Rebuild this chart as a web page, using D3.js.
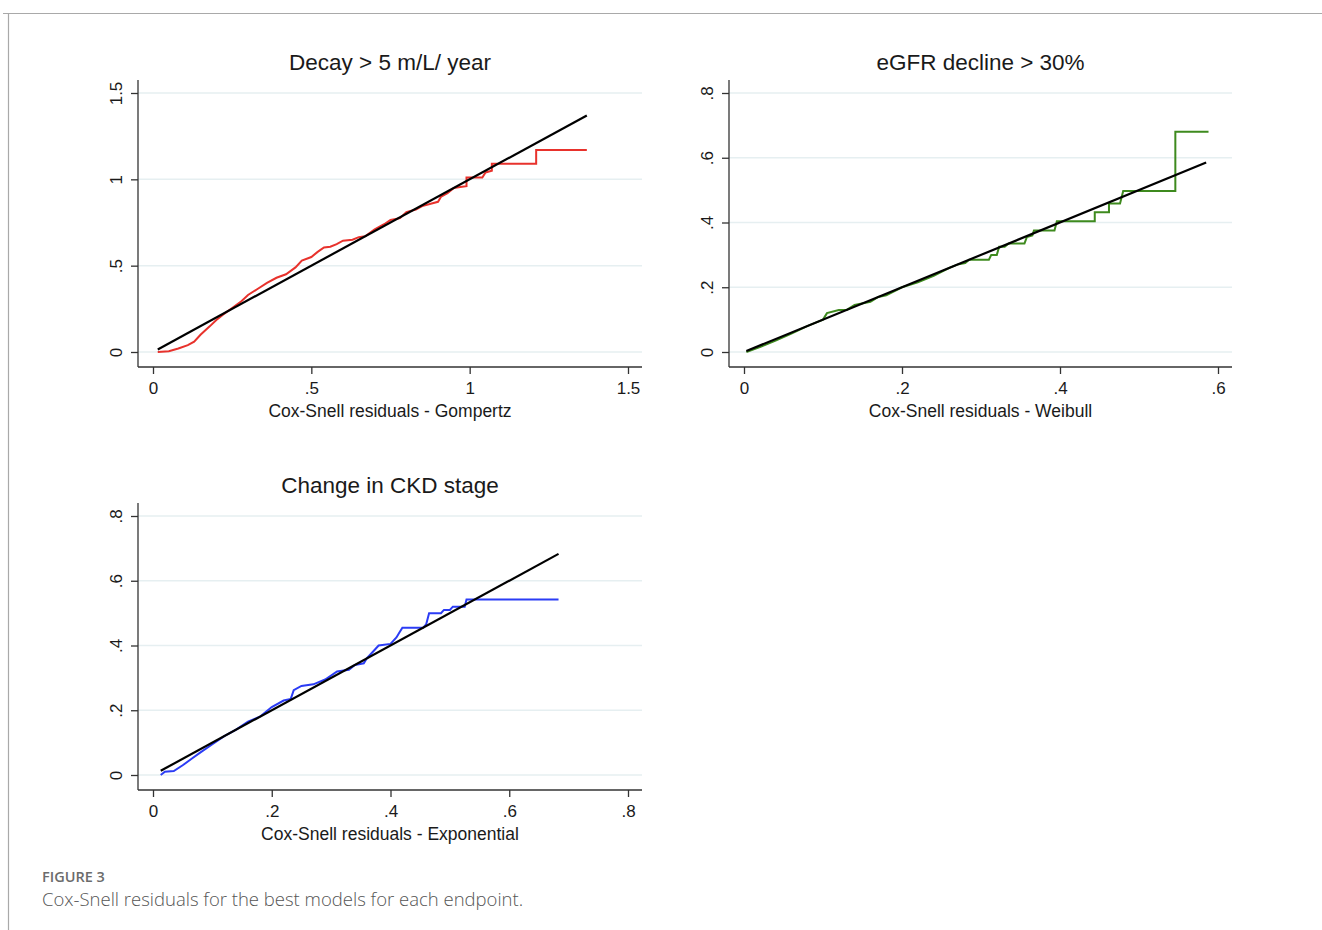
<!DOCTYPE html>
<html>
<head>
  <style>
    body { margin: 0; background: #fff; }
    svg { display: block; }
  </style>
</head>
<body>
  <svg id="fig" width="1322" height="930"></svg>
  <script src="https://d3js.org/d3.v7.min.js"></script>
  <script>
    // Nelson-Aalen cumulative hazard of the Cox-Snell residuals
    // (a repeated x value is a vertical jump of the step function)
    const gompertzX = [0.015, 0.05, 0.08, 0.11, 0.13, 0.15, 0.18, 0.20, 0.22, 0.25, 0.28, 0.30, 0.33, 0.36, 0.39, 0.42, 0.45, 0.47, 0.50, 0.52, 0.54, 0.56, 0.58, 0.60, 0.63, 0.65, 0.67, 0.70, 0.73, 0.75, 0.78, 0.80, 0.83, 0.85, 0.88, 0.90, 0.91, 0.93, 0.95, 0.97, 0.99, 0.99, 1.04, 1.05, 1.07, 1.07, 1.21, 1.21, 1.37]
    const gompertzY = [0.0, 0.005, 0.02, 0.04, 0.06, 0.10, 0.15, 0.185, 0.215, 0.255, 0.295, 0.33, 0.365, 0.40, 0.43, 0.45, 0.49, 0.53, 0.55, 0.58, 0.605, 0.61, 0.625, 0.645, 0.65, 0.665, 0.67, 0.71, 0.74, 0.765, 0.775, 0.81, 0.825, 0.845, 0.86, 0.87, 0.90, 0.92, 0.95, 0.955, 0.96, 1.01, 1.01, 1.04, 1.05, 1.09, 1.09, 1.17, 1.17]

    const weibullX = [0.003, 0.02, 0.04, 0.06, 0.08, 0.09, 0.10, 0.105, 0.12, 0.13, 0.14, 0.16, 0.17, 0.18, 0.20, 0.22, 0.24, 0.26, 0.27, 0.28, 0.285, 0.31, 0.313, 0.32, 0.323, 0.33, 0.335, 0.355, 0.358, 0.365, 0.367, 0.393, 0.396, 0.444, 0.444, 0.462, 0.462, 0.476, 0.48, 0.546, 0.546, 0.588]
    const weibullY = [0.0, 0.015, 0.035, 0.057, 0.08, 0.09, 0.10, 0.12, 0.13, 0.13, 0.145, 0.155, 0.17, 0.175, 0.20, 0.215, 0.235, 0.26, 0.27, 0.275, 0.285, 0.285, 0.30, 0.30, 0.325, 0.325, 0.335, 0.335, 0.355, 0.36, 0.375, 0.375, 0.404, 0.404, 0.432, 0.432, 0.459, 0.459, 0.497, 0.497, 0.68, 0.68]

    const exponentialX = [0.013, 0.02, 0.035, 0.05, 0.065, 0.08, 0.10, 0.12, 0.14, 0.16, 0.18, 0.20, 0.22, 0.232, 0.237, 0.25, 0.27, 0.29, 0.31, 0.33, 0.34, 0.355, 0.36, 0.37, 0.38, 0.40, 0.41, 0.415, 0.42, 0.455, 0.46, 0.465, 0.485, 0.49, 0.50, 0.505, 0.525, 0.528, 0.683]
    const exponentialY = [0.0, 0.01, 0.012, 0.03, 0.05, 0.07, 0.095, 0.12, 0.14, 0.165, 0.18, 0.21, 0.23, 0.235, 0.262, 0.275, 0.28, 0.295, 0.32, 0.325, 0.34, 0.345, 0.36, 0.38, 0.40, 0.405, 0.425, 0.44, 0.455, 0.455, 0.465, 0.50, 0.50, 0.51, 0.51, 0.52, 0.52, 0.542, 0.542]

    // 45-degree reference line ends
    const gompertzRef = [0.015, 1.37]
    const weibullRef = [0.003, 0.585]
    const exponentialRef = [0.013, 0.683]

    const gompertzTicks = [0, 0.5, 1, 1.5]
    const weibullTicks = [0, 0.2, 0.4, 0.6]
    const weibullYTicks = [0, 0.2, 0.4, 0.6, 0.8]
    const exponentialTicks = [0, 0.2, 0.4, 0.6, 0.8]

    const titles = ['Decay > 5 m/L/ year', 'eGFR decline > 30%', 'Change in CKD stage']
    const xLabels = ['Cox-Snell residuals - Gompertz', 'Cox-Snell residuals - Weibull', 'Cox-Snell residuals - Exponential']

    const fmt = d => d === 0 ? '0' : String(d).replace(/^0\./, '.')
    const font = 'Liberation Sans, Arial, Helvetica, sans-serif'
    const ink = '#1a1a1a'

    const svg = d3.select('#fig')

    // figure frame
    svg.append('line').attr('x1', 3).attr('x2', 1322).attr('y1', 13.5).attr('y2', 13.5)
      .attr('stroke', '#a9a9a9').attr('stroke-width', 1.2)
    svg.append('line').attr('x1', 8.5).attr('x2', 8.5).attr('y1', 13).attr('y2', 930)
      .attr('stroke', '#a9a9a9').attr('stroke-width', 1.2)

    function panel(p) {
      const x = d3.scaleLinear().domain(p.xDomain).range([p.left + 15, p.right - 14])
      const y = d3.scaleLinear().domain(p.yDomain).range([p.bottom - 15, p.top + 13])
      const g = svg.append('g')

      // grid
      g.selectAll('.grid').data(p.yTicks).enter().append('line')
        .attr('x1', p.left).attr('x2', p.right)
        .attr('y1', d => y(d)).attr('y2', d => y(d))
        .attr('stroke', '#e6eff1').attr('stroke-width', 1.5)

      const xa = g.append('g').attr('transform', `translate(0,${p.bottom})`)
        .call(d3.axisBottom(x).tickValues(p.xTicks).tickFormat(fmt).tickSize(7).tickPadding(5))
      const ya = g.append('g').attr('transform', `translate(${p.left},0)`)
        .call(d3.axisLeft(y).tickValues(p.yTicks).tickFormat(fmt).tickSize(7).tickPadding(5))
      xa.select('.domain').attr('d', `M${p.left},0H${p.right}`)
      ya.select('.domain').attr('d', `M0,${p.top}V${p.bottom}`)
      for (const a of [xa, ya]) {
        a.attr('font-size', null).attr('font-family', null)
        a.selectAll('.domain, .tick line').attr('stroke', '#333').attr('stroke-width', 1.3)
        a.selectAll('text').attr('font-family', font).attr('font-size', 17).attr('fill', ink)
      }
      xa.selectAll('text').attr('dy', '0.9em')
      ya.selectAll('text')
        .attr('x', null).attr('dy', null).attr('text-anchor', 'middle')
        .attr('transform', 'translate(-16,0) rotate(-90)')

      // cumulative hazard, then the reference line on top
      const pts = p.xs.map((v, i) => [v, p.ys[i]])
      const line = d3.line().x(d => x(d[0])).y(d => y(d[1]))
      g.append('path').datum(pts)
        .attr('d', line).attr('fill', 'none')
        .attr('stroke', p.color).attr('stroke-width', 2)

      g.append('line')
        .attr('x1', x(p.ref[0])).attr('y1', y(p.ref[0]))
        .attr('x2', x(p.ref[1])).attr('y2', y(p.ref[1]))
        .attr('stroke', '#000').attr('stroke-width', 2.2)

      g.append('text').attr('x', (p.left + p.right) / 2).attr('y', p.top - 10)
        .attr('text-anchor', 'middle').attr('font-family', font).attr('font-size', 22.5)
        .attr('fill', ink).text(p.title)
      g.append('text').attr('x', (p.left + p.right) / 2).attr('y', p.bottom + 50)
        .attr('text-anchor', 'middle').attr('font-family', font).attr('font-size', 17.5)
        .attr('fill', ink).text(p.xLabel)
    }

    panel({ left: 138, right: 642, top: 80, bottom: 367, xDomain: [0, 1.5], yDomain: [0, 1.5],
      xTicks: gompertzTicks, yTicks: gompertzTicks, xs: gompertzX, ys: gompertzY, ref: gompertzRef,
      color: '#e8322c', title: titles[0], xLabel: xLabels[0] })
    panel({ left: 729, right: 1232, top: 80, bottom: 367, xDomain: [0, 0.6], yDomain: [0, 0.8],
      xTicks: weibullTicks, yTicks: weibullYTicks, xs: weibullX, ys: weibullY, ref: weibullRef,
      color: '#3e8a1e', title: titles[1], xLabel: xLabels[1] })
    panel({ left: 138, right: 642, top: 503, bottom: 790, xDomain: [0, 0.8], yDomain: [0, 0.8],
      xTicks: exponentialTicks, yTicks: exponentialTicks, xs: exponentialX, ys: exponentialY, ref: exponentialRef,
      color: '#2b3cf5', title: titles[2], xLabel: xLabels[2] })

    // caption
    svg.append('text').attr('x', 42).attr('y', 882)
      .attr('font-family', 'Open Sans, sans-serif').attr('font-size', 14.5).attr('font-weight', 600)
      .attr('fill', '#6b6b6b').text('FIGURE 3')
    svg.append('text').attr('x', 42).attr('y', 906)
      .attr('font-family', 'Open Sans, sans-serif').attr('font-size', 18.5).attr('font-weight', 300)
      .attr('fill', '#555').text('Cox-Snell residuals for the best models for each endpoint.')
  </script>
</body>
</html>
